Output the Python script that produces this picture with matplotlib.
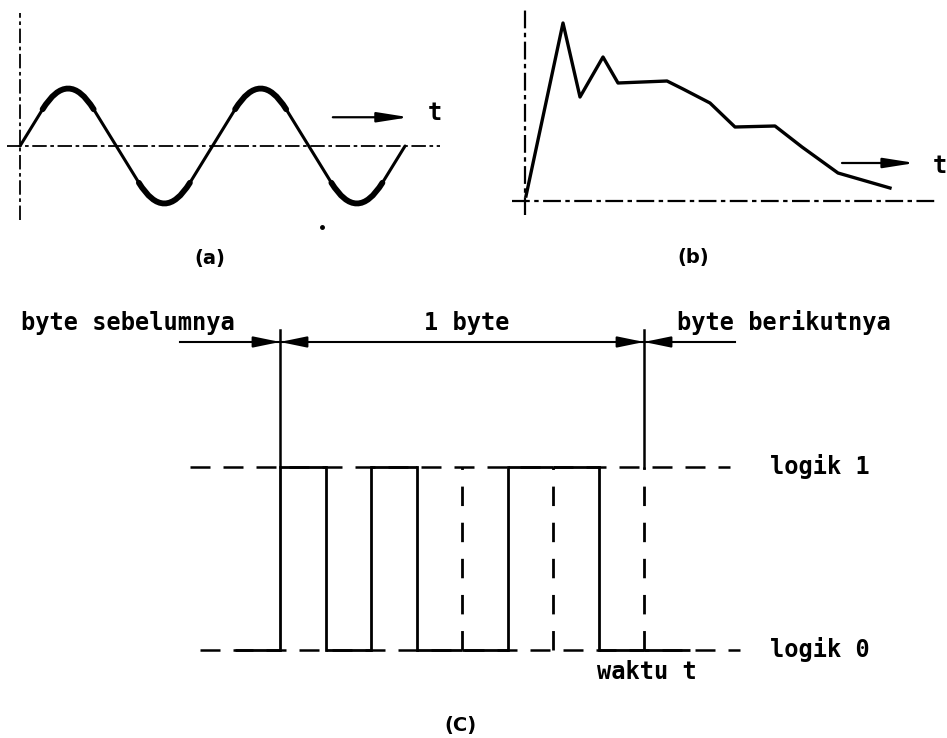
import matplotlib

matplotlib.use("Agg")
import matplotlib.pyplot as plt
from matplotlib.path import Path
from matplotlib.patches import PathPatch, ArrowStyle

plt.rcParams["font.family"] = ["DejaVu Sans Mono"]

W, H, DPI = 947, 738, 100

# (a) sine: zero crossings and peaks, t in half-periods
SINE_T = [0, 0.5, 1, 1.5, 2, 2.5, 3, 3.5, 4]
SINE_V = [0, 1, 0, -1, 0, 1, 0, -1, 0]

# (b) irregular analog signal
ANALOG_T = [0.1, 3.8, 5.5, 7.8, 9.3, 14.2, 15.8, 18.5, 21.0, 25.0, 27.7, 31.3, 36.5]
ANALOG_V = [0.5, 17.8, 10.4, 14.4, 11.8, 12.0, 11.2, 9.8, 7.4, 7.5, 5.4, 2.8, 1.3]

# (c) one byte of serial data, plus the bit before and after it
BITS = [1, 0, 1, 0, 0, 1, 1, 0]
BIT_PREV, BIT_NEXT = 0, 0

LW = 2.0
MONO = dict(fontsize=17, fontweight="bold", family=["DejaVu Sans Mono"])
CAP = dict(fontsize=14, fontweight="bold", family=["DejaVu Sans"])


def px_axes(fig, left, top, right, bottom, xlim, ylim):
    ax = fig.add_axes([left / W, 1 - bottom / H, (right - left) / W, (bottom - top) / H])
    ax.set_xlim(*xlim); ax.set_ylim(*ylim); ax.axis("off")
    return ax


def rounded_wave(ts, vs, overshoot=1.36, r=0.265):
    """Straight flanks through the zero crossings, quadratic rounding at each peak."""
    verts, codes, corners = [(ts[0], vs[0])], [Path.MOVETO], []
    for i in range(1, len(ts)):
        if vs[i] == 0 or i == len(ts) - 1:
            verts.append((ts[i], vs[i])); codes.append(Path.LINETO)
            continue
        hw = ts[i] - ts[i - 1]
        a = vs[i] * overshoot
        p_in = (ts[i] - r, a * (1 - r / hw))
        p_out = (ts[i] + r, a * (1 - r / hw))
        verts += [p_in, (ts[i], a), p_out]
        codes += [Path.LINETO, Path.CURVE3, Path.CURVE3]
        corners.append(Path([p_in, (ts[i], a), p_out], [Path.MOVETO, Path.CURVE3, Path.CURVE3]))
    return Path(verts, codes), corners


fig = plt.figure(figsize=(W / DPI, H / DPI), dpi=DPI)
fig.patch.set_facecolor("white")

# ---------------- (a) ----------------
ax = px_axes(fig, 0, 0, 470, 290, (-0.2078, 4.675), (-2.504, 2.539))
axis_ls = (0, (8, 2, 2, 2))
ax.plot([0, 0], [-1.287, 2.313], color="k", lw=1.3, ls=axis_ls)
ax.plot([-0.135, 4.364], [0, 0], color="k", lw=1.3, ls=axis_ls)
wave, corners = rounded_wave(SINE_T, SINE_V)
ax.add_patch(PathPatch(wave, fc="none", ec="k", lw=2.2, capstyle="round"))
for c in corners:
    ax.add_patch(PathPatch(c, fc="none", ec="k", lw=4.2, capstyle="round"))
ax.annotate("", xy=(4.04, 0.5), xytext=(3.25, 0.5),
            arrowprops=dict(arrowstyle=ArrowStyle("-|>", head_length=1.9, head_width=0.3),
                            mutation_scale=10, lw=1.6, color="k", shrinkA=0, shrinkB=0))
ax.text(4.31, 0.57, "t", ha="center", va="center", **MONO)
ax.plot([3.14], [-1.41], "o", color="k", ms=2.5, clip_on=False)
ax.text(1.974, -1.948, "(a)", ha="center", va="center", **CAP)

# ---------------- (b) ----------------
ax = px_axes(fig, 470, 0, 947, 290, (-5.5, 42.2), (-8.9, 20.1))
ax.plot([0, 0], [-1.4, 19.3], color="k", lw=1.6, ls=axis_ls)
ax.plot([-1.3, 41.2], [0, 0], color="k", lw=1.6, ls=axis_ls)
ax.plot(ANALOG_T, ANALOG_V, color="k", lw=2.4, solid_joinstyle="round")
ax.annotate("", xy=(39.0, 3.8), xytext=(31.7, 3.8),
            arrowprops=dict(arrowstyle=ArrowStyle("-|>", head_length=1.9, head_width=0.3),
                            mutation_scale=10, lw=1.6, color="k", shrinkA=0, shrinkB=0))
ax.text(41.5, 3.5, "t", ha="center", va="center", clip_on=False, **MONO)
ax.text(16.8, -5.7, "(b)", ha="center", va="center", **CAP)

# ---------------- (c) ----------------
ax = px_axes(fig, 0, 290, 947, 738, (-6.154, 14.659), (-0.481, 1.967))
n = len(BITS)
top_y, frame_top = 1.683, 1.75
h_dash = (0, (8, 5.2))
v_dash = (0, (7, 6))

# reference levels
ax.plot([-1.98, 9.89], [1, 1], color="k", lw=1.8, ls=h_dash)
ax.plot([-1.76, 10.1], [0, 0], color="k", lw=1.8, ls=h_dash)

# byte frame: line with arrowheads meeting at each boundary
ax.plot([-2.2, 10.0], [top_y, top_y], color="k", lw=1.5)
head = ArrowStyle("-|>", head_length=1.6, head_width=0.33)
for xb in (0, n):
    ax.plot([xb, xb], [1, frame_top], color="k", lw=1.8)
    for side in (-1, 1):
        ax.annotate("", xy=(xb, top_y), xytext=(xb + side * 0.5, top_y),
                    arrowprops=dict(arrowstyle=head, mutation_scale=10, lw=1.5,
                                    color="k", shrinkA=0, shrinkB=0))

# signal: solid levels, solid edges at transitions, dashed cell borders otherwise
levels = [BIT_PREV] + BITS + [BIT_NEXT]
for k, lv in enumerate(levels):
    x0 = k - 1
    ax.plot([x0, x0 + 1], [lv, lv], color="k", lw=LW, solid_capstyle="butt")
for xb in range(0, n + 1):
    before, after = levels[xb], levels[xb + 1]
    if before != after:
        ax.plot([xb, xb], [0, 1], color="k", lw=LW)
    else:
        ax.plot([xb, xb], [0, 1], color="k", lw=LW, ls=v_dash)

ax.text(-5.69, 1.787, "byte sebelumnya", ha="left", va="center", **MONO)
ax.text(4.11, 1.787, "1 byte", ha="center", va="center", **MONO)
ax.text(8.72, 1.787, "byte berikutnya", ha="left", va="center", **MONO)
ax.text(10.77, 1.0, "logik 1", ha="left", va="center", **MONO)
ax.text(10.77, 0.0, "logik 0", ha="left", va="center", **MONO)
ax.text(6.97, -0.12, "waktu t", ha="left", va="center", **MONO)
ax.text(3.96, -0.41, "(C)", ha="center", va="center", **CAP)

fig.savefig("out.png", dpi=DPI, facecolor="white")
